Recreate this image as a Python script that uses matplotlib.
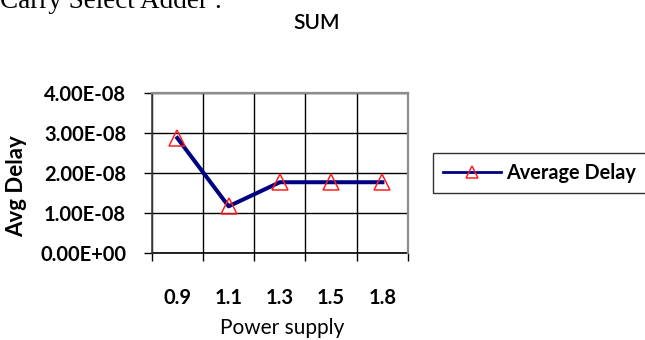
import numpy as np
import matplotlib.pyplot as plt
from matplotlib.ticker import FixedLocator, FuncFormatter

# values
supply_labels = ["0.9", "1.1", "1.3", "1.5", "1.8"]
avg_delay = [2.87e-08, 1.17e-08, 1.77e-08, 1.77e-08, 1.77e-08]
y_ticks = [0.0, 1e-08, 2e-08, 3e-08, 4e-08]

plt.rcParams["font.family"] = ["Lato", "DejaVu Sans"]

fig = plt.figure(figsize=(6.45, 3.40), dpi=100)
ax = fig.add_axes([0.2352, 0.2550, 0.3974, 0.4724])

x = np.arange(len(supply_labels))
ax.plot(x, avg_delay, color="#000080", linewidth=2.9, marker="^",
        markersize=12, markerfacecolor="none", markeredgecolor="#ff2020",
        markeredgewidth=1.1, label="Average Delay")

ax.set_xlim(-0.5, len(supply_labels) - 0.5)
ax.set_ylim(0, 4e-08)

# categories in the middle, grid lines and ticks on the borders
ax.set_xticks(x)
ax.set_xticklabels(supply_labels, fontsize=14.5, fontweight="bold")
ax.xaxis.set_minor_locator(FixedLocator(np.arange(-0.5, len(supply_labels), 1.0)))
ax.tick_params(axis="x", which="major", length=0, pad=25)
ax.tick_params(axis="x", which="minor", length=6, width=1, direction="out")

ax.set_yticks(y_ticks)
ax.yaxis.set_major_formatter(FuncFormatter(lambda v, p: f"{v:.2E}"))
ax.tick_params(axis="y", length=6, width=1, direction="out", pad=12.5, labelsize=14.5)
for lbl in ax.get_yticklabels():
    lbl.set_fontweight("bold")

ax.grid(True, which="minor", axis="x", color="black", linewidth=1)
ax.grid(True, which="major", axis="y", color="black", linewidth=1)
ax.spines["bottom"].set_visible(False)
for side in ["top", "right"]:
    ax.spines[side].set_color("#8c8c8c")
    ax.spines[side].set_linewidth(1.6)
ax.spines["left"].set_color("#404040")
ax.spines["left"].set_linewidth(1.2)
ax.axhline(0, color="black", linewidth=1.2, clip_on=False)

ax.set_ylabel("Avg Delay", fontsize=16, fontweight="bold", va="center")
ax.yaxis.set_label_coords(17 / 645, 1 - 186 / 340, transform=fig.transFigure)
ax.set_xlabel("Power supply", fontsize=15, va="center")
ax.xaxis.set_label_coords(282 / 645, 1 - 328 / 340, transform=fig.transFigure)

fig.text(317 / 645, 1 - 23 / 340, "SUM", ha="center", va="center",
         fontsize=15, fontweight="semibold")
fig.text(0.0, 1 - 8 / 340, "Carry Select Adder :", ha="left", va="baseline",
         fontsize=19.5, family="Liberation Serif")

leg = ax.legend(loc="center left", bbox_to_anchor=(433 / 645, 1 - 173 / 340),
                bbox_transform=fig.transFigure, frameon=True, fancybox=False,
                edgecolor="black", fontsize=14.3, handlelength=2.9,
                handletextpad=0.3, borderpad=0.5, borderaxespad=0)
leg.get_frame().set_linewidth(1)
for t in leg.get_texts():
    t.set_fontweight("bold")
for h in leg.get_lines():
    h.set_linewidth(2)
    h.set_markersize(8)

fig.canvas.draw()
# the reference legend box runs past the right edge of the picture
frame = leg.get_frame()
frame.set_x(frame.get_x() + 8)
frame.set_width(frame.get_width() + 30)

fig.savefig("out.png", dpi=100)
